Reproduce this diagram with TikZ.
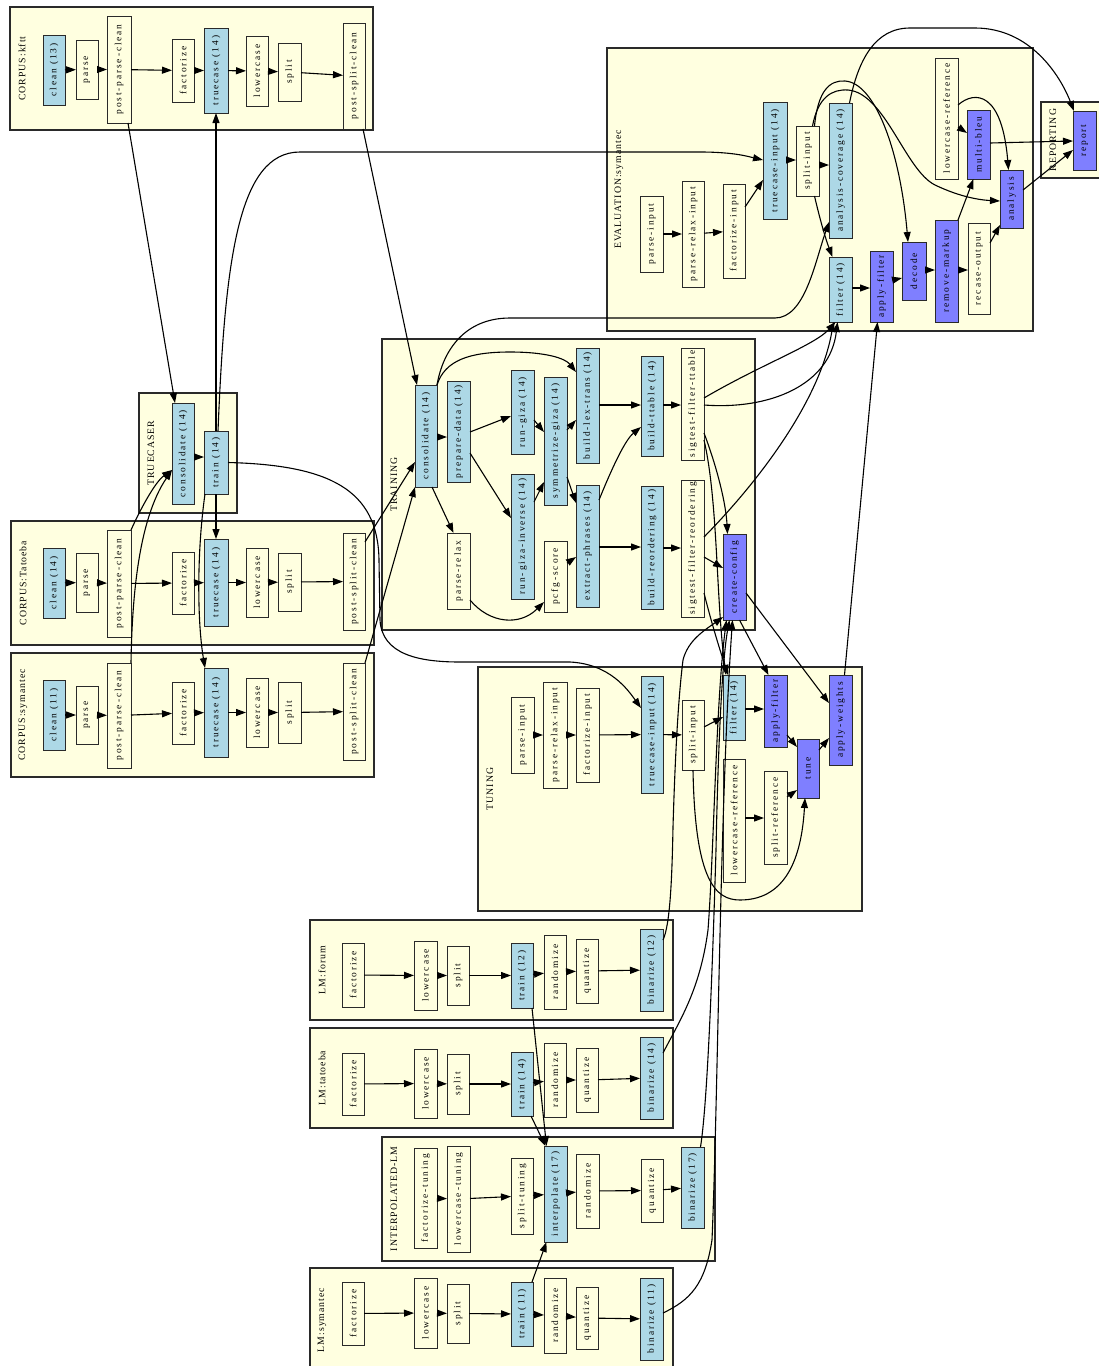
\documentclass[tikz,border=0pt]{standalone}
\usepackage{fontspec}
\usepackage{graphicx}
\usetikzlibrary{arrows.meta}
\newfontfamily\ndfam[LetterSpace=20]{Liberation Serif}
\newfontfamily\clfam[LetterSpace=10]{Liberation Serif}
\definecolor{lyel}{HTML}{FFFFE0}
\definecolor{lblu}{HTML}{ADD8E6}
\definecolor{lpur}{HTML}{7F7FFF}
\definecolor{edg}{HTML}{2A2A2A}
\tikzset{
 nbox/.style={draw=edg, line width=1pt, inner sep=0pt, outer sep=0pt, font=\ndfam\fontsize{9.4}{10}\selectfont, text=black},
 bl/.style={nbox, fill=lblu},
 pu/.style={nbox, fill=lpur},
 wh/.style={nbox},
 clus/.style={draw=edg, line width=1.4pt, fill=lyel},
 cllab/.style={inner sep=0pt, font=\clfam\fontsize{9.8}{11}\selectfont},
 arr/.style={-{Triangle[length=10pt,width=7pt]}, line width=1.1pt, black},
}
\newcommand\bx[7]{\node[#6, minimum width={(#3-#2)*1pt}, minimum height={(#5-#4)*1pt}] (#1) at ({(#2+#3)/2},{(#4+#5)/2}) {\rotatebox{90}{#7}};}
\newcommand\cl[6]{\draw[clus] (#1,#2) rectangle (#3,#4); \node[cllab] (#6) at ({#1+12},{(#2+#4)/2}) {\rotatebox{90}{#5}};}
\begin{document}
\begin{tikzpicture}[x=1pt,y=-1pt]
\useasboundingbox (0,0) rectangle (1099,1366);
% clusters
\cl{10}{7}{373}{130}{CORPUS:kftt}{Lkftt}
\cl{139}{393}{237}{513}{TRUECASER}{Ltc}
\cl{11}{521}{374}{645}{CORPUS:Tatoeba}{Ltat}
\cl{11}{653}{374}{777}{CORPUS:symantec}{Lsym}
\cl{607}{48}{1033}{331}{EVALUATION:symantec}{Leval}
\cl{1041}{102}{1106}{178}{REPORTING}{Lrep}
\cl{382}{339}{755}{630}{TRAINING}{Ltrain}
\cl{478}{667}{862}{911}{TUNING}{Ltune}
\cl{310}{920}{673}{1020}{LM:forum}{Lfor}
\cl{310}{1028}{673}{1128}{LM:tatoeba}{Ltat2}
\cl{382}{1137}{715}{1261}{INTERPOLATED-LM}{Lint}
\cl{310}{1268}{673}{1372}{LM:symantec}{Lsy}
% CORPUS:kftt
\bx{kclean}{43}{65}{35}{105}{bl}{clean (13)}
\bx{kparse}{76}{98}{40}{99}{wh}{parse}
\bx{kppc}{107}{131}{16}{123}{wh}{post-parse-clean}
\bx{kfact}{172}{194}{39}{102}{wh}{factorize}
\bx{ktrue}{204}{228}{28}{113}{bl}{truecase (14)}
\bx{klower}{246}{268}{36}{106}{wh}{lowercase}
\bx{ksplit}{278}{301}{43}{101}{wh}{split}
\bx{kpsc}{343}{365}{23}{129}{wh}{post-split-clean}
% TRUECASER
\bx{tcons}{172}{194}{403}{504}{bl}{consolidate (14)}
\bx{ttrain}{204}{228}{431}{494}{bl}{train (14)}
% CORPUS:Tatoeba
\bx{tclean}{43}{65}{548}{618}{bl}{clean (14)}
\bx{tparse}{76}{98}{553}{612}{wh}{parse}
\bx{tppc}{107}{131}{530}{637}{wh}{post-parse-clean}
\bx{tfact}{172}{194}{552}{614}{wh}{factorize}
\bx{ttrue}{204}{228}{539}{626}{bl}{truecase (14)}
\bx{tlower}{246}{268}{548}{617}{wh}{lowercase}
\bx{tsplit}{278}{301}{553}{611}{wh}{split}
\bx{tpsc}{343}{365}{533}{630}{wh}{post-split-clean}
% CORPUS:symantec
\bx{sclean}{43}{65}{680}{750}{bl}{clean (11)}
\bx{sparse}{76}{98}{686}{744}{wh}{parse}
\bx{sppc}{107}{131}{663}{768}{wh}{post-parse-clean}
\bx{sfact}{172}{194}{682}{744}{wh}{factorize}
\bx{strue}{204}{228}{668}{757}{bl}{truecase (14)}
\bx{slower}{246}{268}{678}{747}{wh}{lowercase}
\bx{ssplit}{278}{301}{682}{743}{wh}{split}
\bx{spsc}{343}{365}{663}{760}{wh}{post-split-clean}
% EVALUATION
\bx{eparse}{640}{663}{196}{272}{wh}{parse-input}
\bx{eprelax}{682}{704}{181}{287}{wh}{parse-relax-input}
\bx{efact}{723}{745}{184}{278}{wh}{factorize-input}
\bx{etrue}{763}{787}{102}{219}{bl}{truecase-input (14)}
\bx{esplit}{796}{819}{126}{196}{wh}{split-input}
\bx{ecov}{829}{852}{103}{238}{bl}{analysis-coverage (14)}
\bx{efilter}{829}{852}{257}{322}{bl}{filter (14)}
\bx{eapply}{870}{893}{251}{322}{pu}{apply-filter}
\bx{edecode}{902}{926}{242}{300}{pu}{decode}
\bx{eremove}{935}{958}{220}{322}{pu}{remove-markup}
\bx{erecase}{968}{990}{223}{314}{wh}{recase-output}
\bx{elcref}{935}{958}{58}{179}{wh}{lowercase-reference}
\bx{emulti}{967}{990}{110}{179}{pu}{multi-bleu}
\bx{eanal}{1000}{1023}{170}{228}{pu}{analysis}
% REPORTING
\bx{report}{1073}{1096}{111}{170}{pu}{report}
% TRAINING
\bx{rcons}{415}{437}{385}{487}{bl}{consolidate (14)}
\bx{rprep}{447}{470}{381}{482}{bl}{prepare-data (14)}
\bx{rrelax}{447}{470}{533}{609}{wh}{parse-relax}
\bx{rgiza}{511}{534}{370}{454}{bl}{run-giza (14)}
\bx{rginv}{511}{534}{474}{599}{bl}{run-giza-inverse (14)}
\bx{rsym}{544}{567}{377}{505}{bl}{symmetrize-giza (14)}
\bx{rpcfg}{544}{567}{541}{612}{wh}{pcfg-score}
\bx{rlex}{576}{599}{348}{463}{bl}{build-lex-trans (14)}
\bx{rextr}{576}{599}{485}{607}{bl}{extract-phrases (14)}
\bx{rttable}{641}{663}{356}{456}{bl}{build-ttable (14)}
\bx{rreord}{641}{663}{486}{609}{bl}{build-reordering (14)}
\bx{rsft}{681}{704}{348}{460}{wh}{sigtest-filter-ttable}
\bx{rsfr}{681}{704}{480}{617}{wh}{sigtest-filter-reordering}
\bx{rcc}{723}{746}{534}{620}{pu}{create-config}
% TUNING
\bx{uparse}{511}{534}{697}{773}{wh}{parse-input}
\bx{uprelax}{543}{567}{682}{788}{wh}{parse-relax-input}
\bx{ufact}{576}{599}{688}{782}{wh}{factorize-input}
\bx{utrue}{641}{663}{676}{793}{bl}{truecase-input (14)}
\bx{usplit}{682}{704}{700}{770}{wh}{split-input}
\bx{ufilter}{723}{745}{675}{740}{bl}{filter (14)}
\bx{uapply}{764}{787}{675}{747}{pu}{apply-filter}
\bx{ulcref}{723}{745}{759}{882}{wh}{lowercase-reference}
\bx{usref}{764}{787}{771}{864}{wh}{split-reference}
\bx{utune}{797}{819}{739}{798}{pu}{tune}
\bx{uweights}{829}{852}{675}{765}{pu}{apply-weights}
% LM:forum
\bx{fafact}{342}{364}{943}{1007}{wh}{factorize}
\bx{falow}{414}{437}{941}{1010}{wh}{lowercase}
\bx{fasplit}{447}{469}{946}{1005}{wh}{split}
\bx{fatrain}{511}{533}{943}{1008}{bl}{train (12)}
\bx{farand}{544}{566}{935}{1009}{wh}{randomize}
\bx{faquant}{576}{598}{939}{1003}{wh}{quantize}
\bx{fabin}{640}{663}{929}{1011}{bl}{binarize (12)}
% LM:tatoeba
\bx{tafact}{342}{364}{1053}{1115}{wh}{factorize}
\bx{talow}{414}{437}{1049}{1118}{wh}{lowercase}
\bx{tasplit}{447}{469}{1054}{1114}{wh}{split}
\bx{tatrain}{511}{533}{1052}{1116}{bl}{train (14)}
\bx{tarand}{544}{566}{1043}{1117}{wh}{randomize}
\bx{taquant}{576}{598}{1048}{1112}{wh}{quantize}
\bx{tabin}{640}{663}{1037}{1119}{bl}{binarize (14)}
% INTERPOLATED-LM
\bx{ilfact}{414}{437}{1148}{1248}{wh}{factorize-tuning}
\bx{illow}{447}{470}{1146}{1252}{wh}{lowercase-tuning}
\bx{ilsplit}{511}{533}{1158}{1234}{wh}{split-tuning}
\bx{ilinterp}{544}{567}{1146}{1242}{bl}{interpolate (17)}
\bx{ilrand}{576}{599}{1154}{1228}{wh}{randomize}
\bx{ilquant}{641}{663}{1159}{1222}{wh}{quantize}
\bx{ilbin}{681}{704}{1147}{1228}{bl}{binarize (17)}
% LM:symantec
\bx{syfact}{342}{364}{1282}{1345}{wh}{factorize}
\bx{sylow}{414}{437}{1278}{1348}{wh}{lowercase}
\bx{sysplit}{447}{469}{1284}{1343}{wh}{split}
\bx{sytrain}{511}{533}{1282}{1346}{bl}{train (11)}
\bx{syrand}{544}{566}{1278}{1353}{wh}{randomize}
\bx{syquant}{576}{598}{1287}{1349}{wh}{quantize}
\bx{sybin}{640}{663}{1278}{1360}{bl}{binarize (11)}
% ---------- edges ----------
\foreach \p in {k,t,s}{
  \foreach \a/\b in {clean/parse,parse/ppc,ppc/fact,fact/true,true/lower,lower/split,split/psc}
    \draw[arr] (\p\a) -- (\p\b);
}
\foreach \p in {fa,ta,sy}{
  \foreach \a/\b in {fact/low,low/split,split/train,train/rand,rand/quant,quant/bin}
    \draw[arr] (\p\a) -- (\p\b);
}
\foreach \a/\b in {fact/low,low/split,split/interp,interp/rand,rand/quant,quant/bin}
  \draw[arr] (il\a) -- (il\b);
% truecaser
\draw[arr] ([xshift=9pt]kppc.south) -- ([xshift=-8pt]tcons.north);
\draw[arr] (tppc.north east) .. controls (140,510) and (155,482) .. (tcons.west |- 0,470);
\draw[arr] (sppc.north east) .. controls (132,600) and (138,520) .. (tcons.west |- 0,470);
\draw[arr] (tcons.east |- 0,457) -- (ttrain.west |- 0,457);
\draw[arr] (ttrain.north) -- (ktrue.south);
\draw[arr] (ttrain.south) -- (ttrue.north);
\draw[arr] ([xshift=-11pt]ttrain.south) .. controls (197,550) and (197,620) .. ([xshift=-11pt]strue.north);
\draw[arr] ([xshift=2pt]ttrain.north) .. controls (225,260) and (238,152) .. (300,152) -- (700,152) .. controls (735,152) and (750,157) .. (etrue.west |- 0,160);
\draw[arr] (ttrain.east) .. controls (330,465) and (378,490) .. (379,560) -- (380,620) .. controls (382,655) and (420,662) .. (460,662) -- (570,662) .. controls (610,664) and (628,690) .. (utrue.west |- 0,708);
% into training
\draw[arr] ([xshift=-2pt]kpsc.south east) -- ([xshift=2pt]rcons.north west);
\draw[arr] (tpsc.east |- 0,542) -- (rcons.west |- 0,462);
\draw[arr] (spsc.north east) -- (rcons.south west);
% training internal
\draw[arr] (rcons.east |- 0,437) -- (rprep.west |- 0,437);
\draw[arr] ([xshift=6pt]rcons.south) -- ([xshift=-5pt]rrelax.north);
\draw[arr] (rprep.east |- 0,432) -- (rgiza.west |- 0,416);
\draw[arr] (rprep.east |- 0,453) -- (rginv.west |- 0,518);
\draw[arr] (rgiza.east |- 0,420) -- (rsym.west |- 0,432);
\draw[arr] (rginv.east |- 0,502) -- (rsym.west |- 0,482);
\draw[arr] (rsym.east |- 0,430) -- (rlex.west |- 0,420);
\draw[arr] (rsym.east |- 0,477) -- (rextr.west |- 0,503);
\draw[arr] (rrelax.east |- 0,600) .. controls (490,624) and (520,626) .. (rpcfg.west |- 0,602);
\draw[arr] (rpcfg.east |- 0,563) -- (rextr.west |- 0,557);
\draw[arr] (rlex.east |- 0,405) -- (rttable.west |- 0,405);
\draw[arr] (rextr.east |- 0,500) .. controls (612,468) and (625,440) .. (rttable.west |- 0,427);
\draw[arr] (rextr.east |- 0,547) -- (rreord.west |- 0,547);
\draw[arr] (rttable.east |- 0,405) -- (rsft.west |- 0,405);
\draw[arr] (rreord.east |- 0,548) -- (rsfr.west |- 0,548);
\draw[arr] (rcons.north east) .. controls (445,360) and (470,352) .. (510,352) .. controls (545,352) and (565,358) .. (rlex.west |- 0,372);
\draw[arr] (rcons.north east) .. controls (443,350) and (465,318) .. (510,318) -- (775,318) .. controls (805,318) and (815,262) .. (ecov.west |- 0,222);
% sigtest / create-config
\draw[arr] (rsft.east |- 0,398) .. controls (760,365) and (815,345) .. ([xshift=-5pt]efilter.south);
\draw[arr] (rsft.east |- 0,405) .. controls (770,410) and (830,385) .. ([xshift=-3pt]efilter.south);
\draw[arr] (rsfr.east |- 0,537) .. controls (760,480) and (820,400) .. ([xshift=-7pt]efilter.south);
\draw[arr] (rsft.east |- 0,433) .. controls (718,470) and (726,505) .. ([xshift=-7pt]rcc.north);
\draw[arr] (rsft.east |- 0,440) .. controls (718,500) and (716,600) .. ([xshift=-8pt]ufilter.north);
\draw[arr] (rsfr.east |- 0,557) -- (rcc.west |- 0,568);
\draw[arr] (rsfr.east |- 0,593) .. controls (712,625) and (720,650) .. ([xshift=-6pt]ufilter.north);
\draw[arr] ([xshift=5pt]rcc.south) -- ([xshift=-7pt]uapply.north);
\draw[arr] (rcc.east |- 0,593) -- (uweights.west |- 0,703);
\draw[arr] ([xshift=4pt]uweights.north) -- ([xshift=-4pt]eapply.south);
% evaluation
\draw[arr] (eparse) -- (eprelax);
\draw[arr] (eprelax) -- (efact);
\draw[arr] (efact.east |- 0,207) -- (etrue.west |- 0,180);
\draw[arr] (etrue.east |- 0,160) -- (esplit.west |- 0,160);
\draw[arr] (esplit.east |- 0,165) -- (ecov.west |- 0,165);
\draw[arr] ([xshift=7pt]esplit.south) .. controls (820,220) and (826,240) .. ([xshift=-8pt]efilter.north);
\draw[arr] ([xshift=7pt]esplit.north) .. controls (818,90) and (830,80) .. (845,81) .. controls (875,83) and (900,150) .. ([xshift=-6pt]edecode.north);
\draw[arr] ([xshift=5pt]esplit.north) .. controls (818,97) and (832,89) .. (848,90) .. controls (885,93) and (905,170) .. (935,185) .. controls (960,197) and (980,200) .. (eanal.west |- 0,201);
\draw[arr] ([xshift=9pt]ecov.north) .. controls (858,60) and (875,28) .. (910,28) -- (975,28) .. controls (1030,28) and (1060,75) .. ([xshift=1pt]report.north west);
\draw[arr] (efilter.east |- 0,288) -- (eapply.west |- 0,288);
\draw[arr] (eapply.east |- 0,280) -- (edecode.west |- 0,278);
\draw[arr] (edecode.east |- 0,270) -- (eremove.west |- 0,270);
\draw[arr] (eremove.east |- 0,270) -- (erecase.west |- 0,270);
\draw[arr] (eremove.north east) -- ([xshift=-5pt]emulti.south);
\draw[arr] (erecase.east |- 0,243) -- (eanal.west |- 0,225);
\draw[arr] (elcref.east |- 0,127) -- (emulti.west |- 0,133);
\draw[arr] (elcref.east |- 0,105) .. controls (975,90) and (1002,92) .. ([xshift=-3pt]eanal.north);
\draw[arr] (emulti.east |- 0,143) -- (report.west |- 0,141);
\draw[arr] (eanal.east |- 0,190) -- (report.west |- 0,150);
% tuning
\draw[arr] (uparse) -- (uprelax);
\draw[arr] (uprelax) -- (ufact);
\draw[arr] (ufact) -- (utrue);
\draw[arr] (utrue) -- (usplit);
\draw[arr] (usplit.east |- 0,727) -- (ufilter.west |- 0,717);
\draw[arr] (ufilter.east |- 0,709) -- (uapply.west |- 0,709);
\draw[arr] (uapply.east |- 0,735) -- (utune.west |- 0,747);
\draw[arr] (usref.east |- 0,797) -- (utune.west |- 0,790);
\draw[arr] (ulcref.east |- 0,818) -- (usref.west |- 0,818);
\draw[arr] (usplit.south) .. controls (695,880) and (715,900) .. (740,900) .. controls (790,900) and (802,850) .. ([xshift=-3pt]utune.south);
\draw[arr] (utune.east |- 0,750) -- (uweights.west |- 0,738);
% language models
\draw[arr] ([xshift=10pt]fatrain.south) -- ([xshift=-9pt]ilinterp.north);
\draw[arr] ([xshift=9pt]tatrain.south) -- ([xshift=-10pt]ilinterp.north);
\draw[arr] ([xshift=10pt]sytrain.north) -- ([xshift=-9pt]ilinterp.south);
\draw[arr] (fabin.east |- 0,940) .. controls (670,925) and (672,880) .. (673,827) .. controls (675,760) and (678,700) .. (683,660) .. controls (688,640) and (705,630) .. ([yshift=3pt]rcc.south west);
\draw[arr] (tabin.east |- 0,1053) .. controls (680,1020) and (700,990) .. (708,930) .. controls (714,850) and (716,700) .. ([xshift=-8pt]rcc.south);
\draw[arr] ([xshift=8pt]ilbin.north) .. controls (708,1100) and (713,950) .. (716,850) .. controls (718,750) and (722,660) .. ([xshift=-5pt]rcc.south);
\draw[arr] (sybin.east |- 0,1313) .. controls (690,1300) and (705,1285) .. (712,1240) .. controls (718,1100) and (720,800) .. ([xshift=-2pt]rcc.south);
\end{tikzpicture}
\end{document}
